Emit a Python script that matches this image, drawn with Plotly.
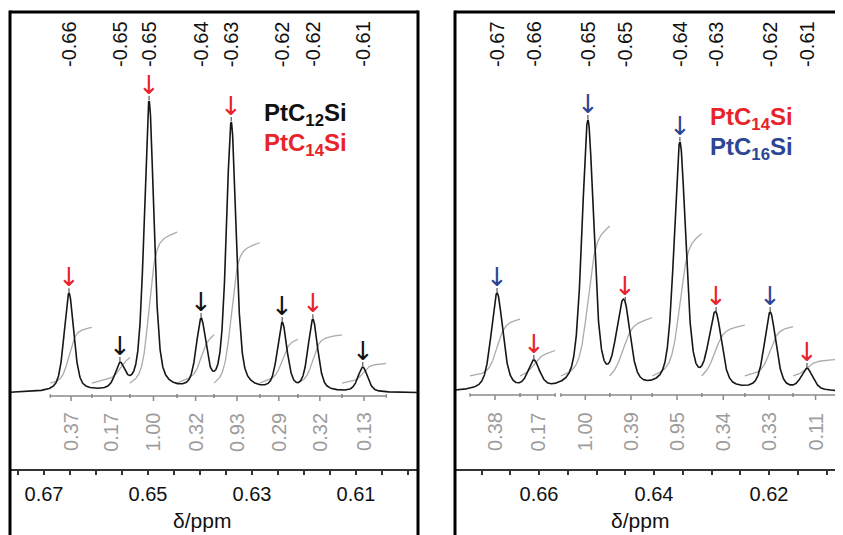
import numpy as np
import plotly.graph_objects as go

W, H = 843, 535          # target picture size (pixels)
OFF = 8                  # default page margin of the html body
FW, FH = W - OFF, H - OFF

# ---------------- data: left panel (PtC12Si / PtC14Si) ----------------
L_peaks = [0.6652, 0.6554, 0.6498, 0.6398, 0.6340, 0.6242, 0.6183, 0.6087]
L_heights = [34.2, 10.6, 100.0, 25.7, 92.8, 24.3, 25.3, 8.9]
L_labels = ["-0.66", "-0.65", "-0.65", "-0.64", "-0.63", "-0.62", "-0.62", "-0.61"]
L_arrows = ["red", "black", "red", "black", "red", "black", "red", "black"]
L_reg_start = [0.6688, 0.6608, 0.6535, 0.6444, 0.6373, 0.6285, 0.6212, 0.6127]
L_reg_end = [0.6608, 0.6535, 0.6444, 0.6373, 0.6285, 0.6212, 0.6127, 0.6042]
L_integrals = [0.37, 0.17, 1.00, 0.32, 0.93, 0.29, 0.32, 0.13]
L_shoulders = []
L_shoulder_h = []
L_legend = [("PtC<sub>12</sub>Si", "black"), ("PtC<sub>14</sub>Si", "red")]

# ---------------- data: right panel (PtC14Si / PtC16Si) ----------------
R_peaks = [0.6673, 0.6609, 0.6515, 0.6450, 0.6355, 0.6292, 0.6198, 0.6134]
R_heights = [36.4, 11.8, 100.0, 33.1, 91.9, 29.4, 29.4, 8.8]
R_labels = ["-0.67", "-0.66", "-0.65", "-0.65", "-0.64", "-0.63", "-0.62", "-0.61"]
R_arrows = ["blue", "red", "blue", "red", "blue", "red", "blue", "red"]
R_reg_start = [0.6720, 0.6633, 0.6562, 0.6477, 0.6403, 0.6317, 0.6242, 0.6158]
R_reg_end = [0.6633, 0.6572, 0.6477, 0.6403, 0.6317, 0.6242, 0.6158, 0.6080]
R_integrals = [0.38, 0.17, 1.00, 0.39, 0.95, 0.34, 0.33, 0.11]
R_shoulders = [0.6460, 0.6302]
R_shoulder_h = [13.0, 6.0]
R_legend = [("PtC<sub>14</sub>Si", "red"), ("PtC<sub>16</sub>Si", "blue")]

COLORS = {"red": "#e8242b", "blue": "#2d4595", "black": "#111111"}
FONT = "Liberation Sans, Arial, sans-serif"
ARROW_FONT = "DejaVu Sans"


def px_x(px):
    return (px - OFF) / FW


def px_y(py):
    return 1 - (py - OFF) / FH


PANELS = [
    dict(x0=10, x1=418, xrange=[0.67654, 0.59808], yrange=[-26.0, 130.5],
         fwhm=0.0022, y0=3.4, scale=51.7, bar=-1.0, tick0=0.61,
         peaks=L_peaks, heights=L_heights, labels=L_labels, arrows=L_arrows,
         rs=L_reg_start, re=L_reg_end, ints=L_integrals, sh=L_shoulders, shh=L_shoulder_h,
         legend=L_legend, lx=262, ly=[115, 144], title_x=0.6396),
    dict(x0=455, x1=843, xrange=[0.67461, 0.60713], yrange=[-28.3, 139.7],
         fwhm=0.0024, y0=5.9, scale=55.1, bar=-1.1, tick0=0.62,
         peaks=R_peaks, heights=R_heights, labels=R_labels, arrows=R_arrows,
         rs=R_reg_start, re=R_reg_end, ints=R_integrals, sh=R_shoulders, shh=R_shoulder_h,
         legend=R_legend, lx=708, ly=[118, 148], title_x=0.6424),
]

Y_TOP, Y_AXIS = 12, 469


def pv(x, x0, fwhm, eta=0.5):
    t = (np.asarray(x, dtype=float) - x0) / fwhm
    return eta / (1 + 4 * t * t) + (1 - eta) * np.exp(-4 * np.log(2) * t * t)


fig = go.Figure()
annotations = []
shapes = []

for i, P in enumerate(PANELS):
    xa = "x" if i == 0 else "x2"
    ya = "y" if i == 0 else "y2"
    pk = np.array(P["peaks"])
    hts = np.array(P["heights"])
    fw = P["fwhm"]
    sh = np.array(P["sh"])
    shh = np.array(P["shh"])
    M = np.array([[pv(a, b, fw) for b in pk] for a in pk])
    bg = np.array([sum(h * pv(a, s, fw) for s, h in zip(sh, shh)) for a in pk])
    amps = np.linalg.solve(M, hts - bg)

    def model(x, amps=amps, pk=pk, sh=sh, shh=shh, fw=fw):
        x = np.asarray(x, dtype=float)
        y = np.zeros_like(x)
        for a, c in zip(amps, pk):
            y = y + a * pv(x, c, fw)
        for h, s in zip(shh, sh):
            y = y + h * pv(x, s, fw)
        return y

    xs = np.linspace(P["xrange"][0], P["xrange"][1], 3000)
    ys = model(xs)
    pxu = (Y_AXIS - Y_TOP) / (P["yrange"][1] - P["yrange"][0])  # pixels per unit

    # integral curves
    ix, iy = [], []
    for a, b, v in zip(P["rs"], P["re"], P["ints"]):
        xx = np.linspace(a, b, 200)
        c = np.cumsum(model(xx))
        c = (c - c[0]) / (c[-1] - c[0])
        ix += list(xx) + [None]
        iy += list(P["y0"] + v * P["scale"] * c) + [None]
    fig.add_trace(go.Scatter(x=ix, y=iy, mode="lines", xaxis=xa, yaxis=ya,
                             line=dict(color="#ababab", width=1.3), hoverinfo="skip"))

    # spectrum
    fig.add_trace(go.Scatter(x=xs, y=ys, mode="lines", xaxis=xa, yaxis=ya,
                             line=dict(color="#161616", width=1.6), hoverinfo="skip"))

    # integration bar with ticks
    bx, by = [], []
    for a, b in zip(P["rs"], P["re"]):
        bx += [a, b, None]
        by += [P["bar"], P["bar"], None]
        for e in (a, b):
            bx += [e, e, None]
            by += [P["bar"] + 1.8 / pxu, P["bar"] - 1.8 / pxu, None]
        m = (a + b) / 2
        bx += [m, m, None]
        by += [P["bar"], P["bar"] - 5 / pxu, None]
    fig.add_trace(go.Scatter(x=bx, y=by, mode="lines", xaxis=xa, yaxis=ya,
                             line=dict(color="#8a8a8a", width=1.5), hoverinfo="skip"))

    # peak apex markers
    apex = model(pk)
    mx, my = [], []
    for c, h in zip(pk, apex):
        mx += [c, c, None]
        my += [h + 1 / pxu, h + 5 / pxu, None]
    fig.add_trace(go.Scatter(x=mx, y=my, mode="lines", xaxis=xa, yaxis=ya,
                             line=dict(color="#555555", width=1.2), hoverinfo="skip"))

    # top peak labels
    for c, t in zip(pk, P["labels"]):
        annotations.append(dict(x=c, y=px_y(44), xref=xa, yref="paper", text=t,
                                textangle=-90, showarrow=False, yanchor="middle",
                                xanchor="center",
                                font=dict(family=FONT, size=20, color="#111111")))
    # arrows
    for c, h, col in zip(pk, apex, P["arrows"]):
        annotations.append(dict(x=c, y=h, xref=xa, yref=ya, text="↓", showarrow=False,
                                yshift=16, yanchor="middle", xanchor="center",
                                font=dict(family=ARROW_FONT, size=26, color=COLORS[col])))
    # integral labels
    for a, b, v in zip(P["rs"], P["re"], P["ints"]):
        annotations.append(dict(x=(a + b) / 2, y=px_y(432), xref=xa, yref="paper",
                                text=f"{v:.2f}", textangle=-90, showarrow=False,
                                yanchor="middle", xanchor="center",
                                font=dict(family=FONT, size=20, color="#9c9c9c")))
    # legend text
    for (t, col), yy in zip(P["legend"], P["ly"]):
        annotations.append(dict(x=px_x(P["lx"]), y=px_y(yy), xref="paper", yref="paper",
                                text=f"<b>{t}</b>", showarrow=False, xanchor="left",
                                yanchor="middle",
                                font=dict(family=FONT, size=24, color=COLORS[col])))
    # axis title
    annotations.append(dict(x=P["title_x"], y=px_y(520), xref=xa, yref="paper",
                            text="δ/ppm", showarrow=False, yanchor="middle",
                            xanchor="center",
                            font=dict(family=FONT, size=21, color="#111111")))

    # frame
    x0p, x1p = px_x(P["x0"]), px_x(P["x1"])
    ytp = px_y(Y_TOP)
    shapes.append(dict(type="line", xref="paper", yref="paper", x0=x0p, x1=x0p,
                       y0=-0.05, y1=ytp + 1.5 / FH, line=dict(color="black", width=3)))
    shapes.append(dict(type="line", xref="paper", yref="paper", x0=x0p, x1=min(x1p, 1.05),
                       y0=ytp, y1=ytp, line=dict(color="black", width=3)))
    if P["x1"] < W:
        shapes.append(dict(type="line", xref="paper", yref="paper", x0=x1p, x1=x1p,
                           y0=-0.05, y1=ytp + 1.5 / FH, line=dict(color="black", width=3)))

    axis_common = dict(
        domain=[px_x(P["x0"]), px_x(P["x1"])], range=P["xrange"], showline=True,
        linecolor="#333333", linewidth=2, ticks="outside", ticklen=4, tickwidth=1.5,
        tickcolor="#333333", tick0=P["tick0"], dtick=0.02, tickformat=".2f",
        tickfont=dict(family=FONT, size=20, color="#111111"), showgrid=False,
        zeroline=False, automargin=False, ticklabelstandoff=2,
        minor=dict(dtick=0.005, tick0=P["tick0"], ticks="outside", ticklen=4,
                   tickwidth=1.5, tickcolor="#333333", showgrid=False),
    )
    yaxis_common = dict(domain=[px_y(Y_AXIS), px_y(Y_TOP)], range=P["yrange"],
                        visible=False, automargin=False)
    if i == 0:
        fig.update_layout(xaxis=dict(anchor="y", **axis_common),
                          yaxis=dict(anchor="x", **yaxis_common))
    else:
        fig.update_layout(xaxis2=dict(anchor="y2", **axis_common),
                          yaxis2=dict(anchor="x2", **yaxis_common))

fig.update_layout(width=FW, height=FH, margin=dict(l=0, r=0, t=0, b=0),
                  paper_bgcolor="white", plot_bgcolor="white", showlegend=False,
                  annotations=annotations, shapes=shapes)
fig.write_html("out.html")
